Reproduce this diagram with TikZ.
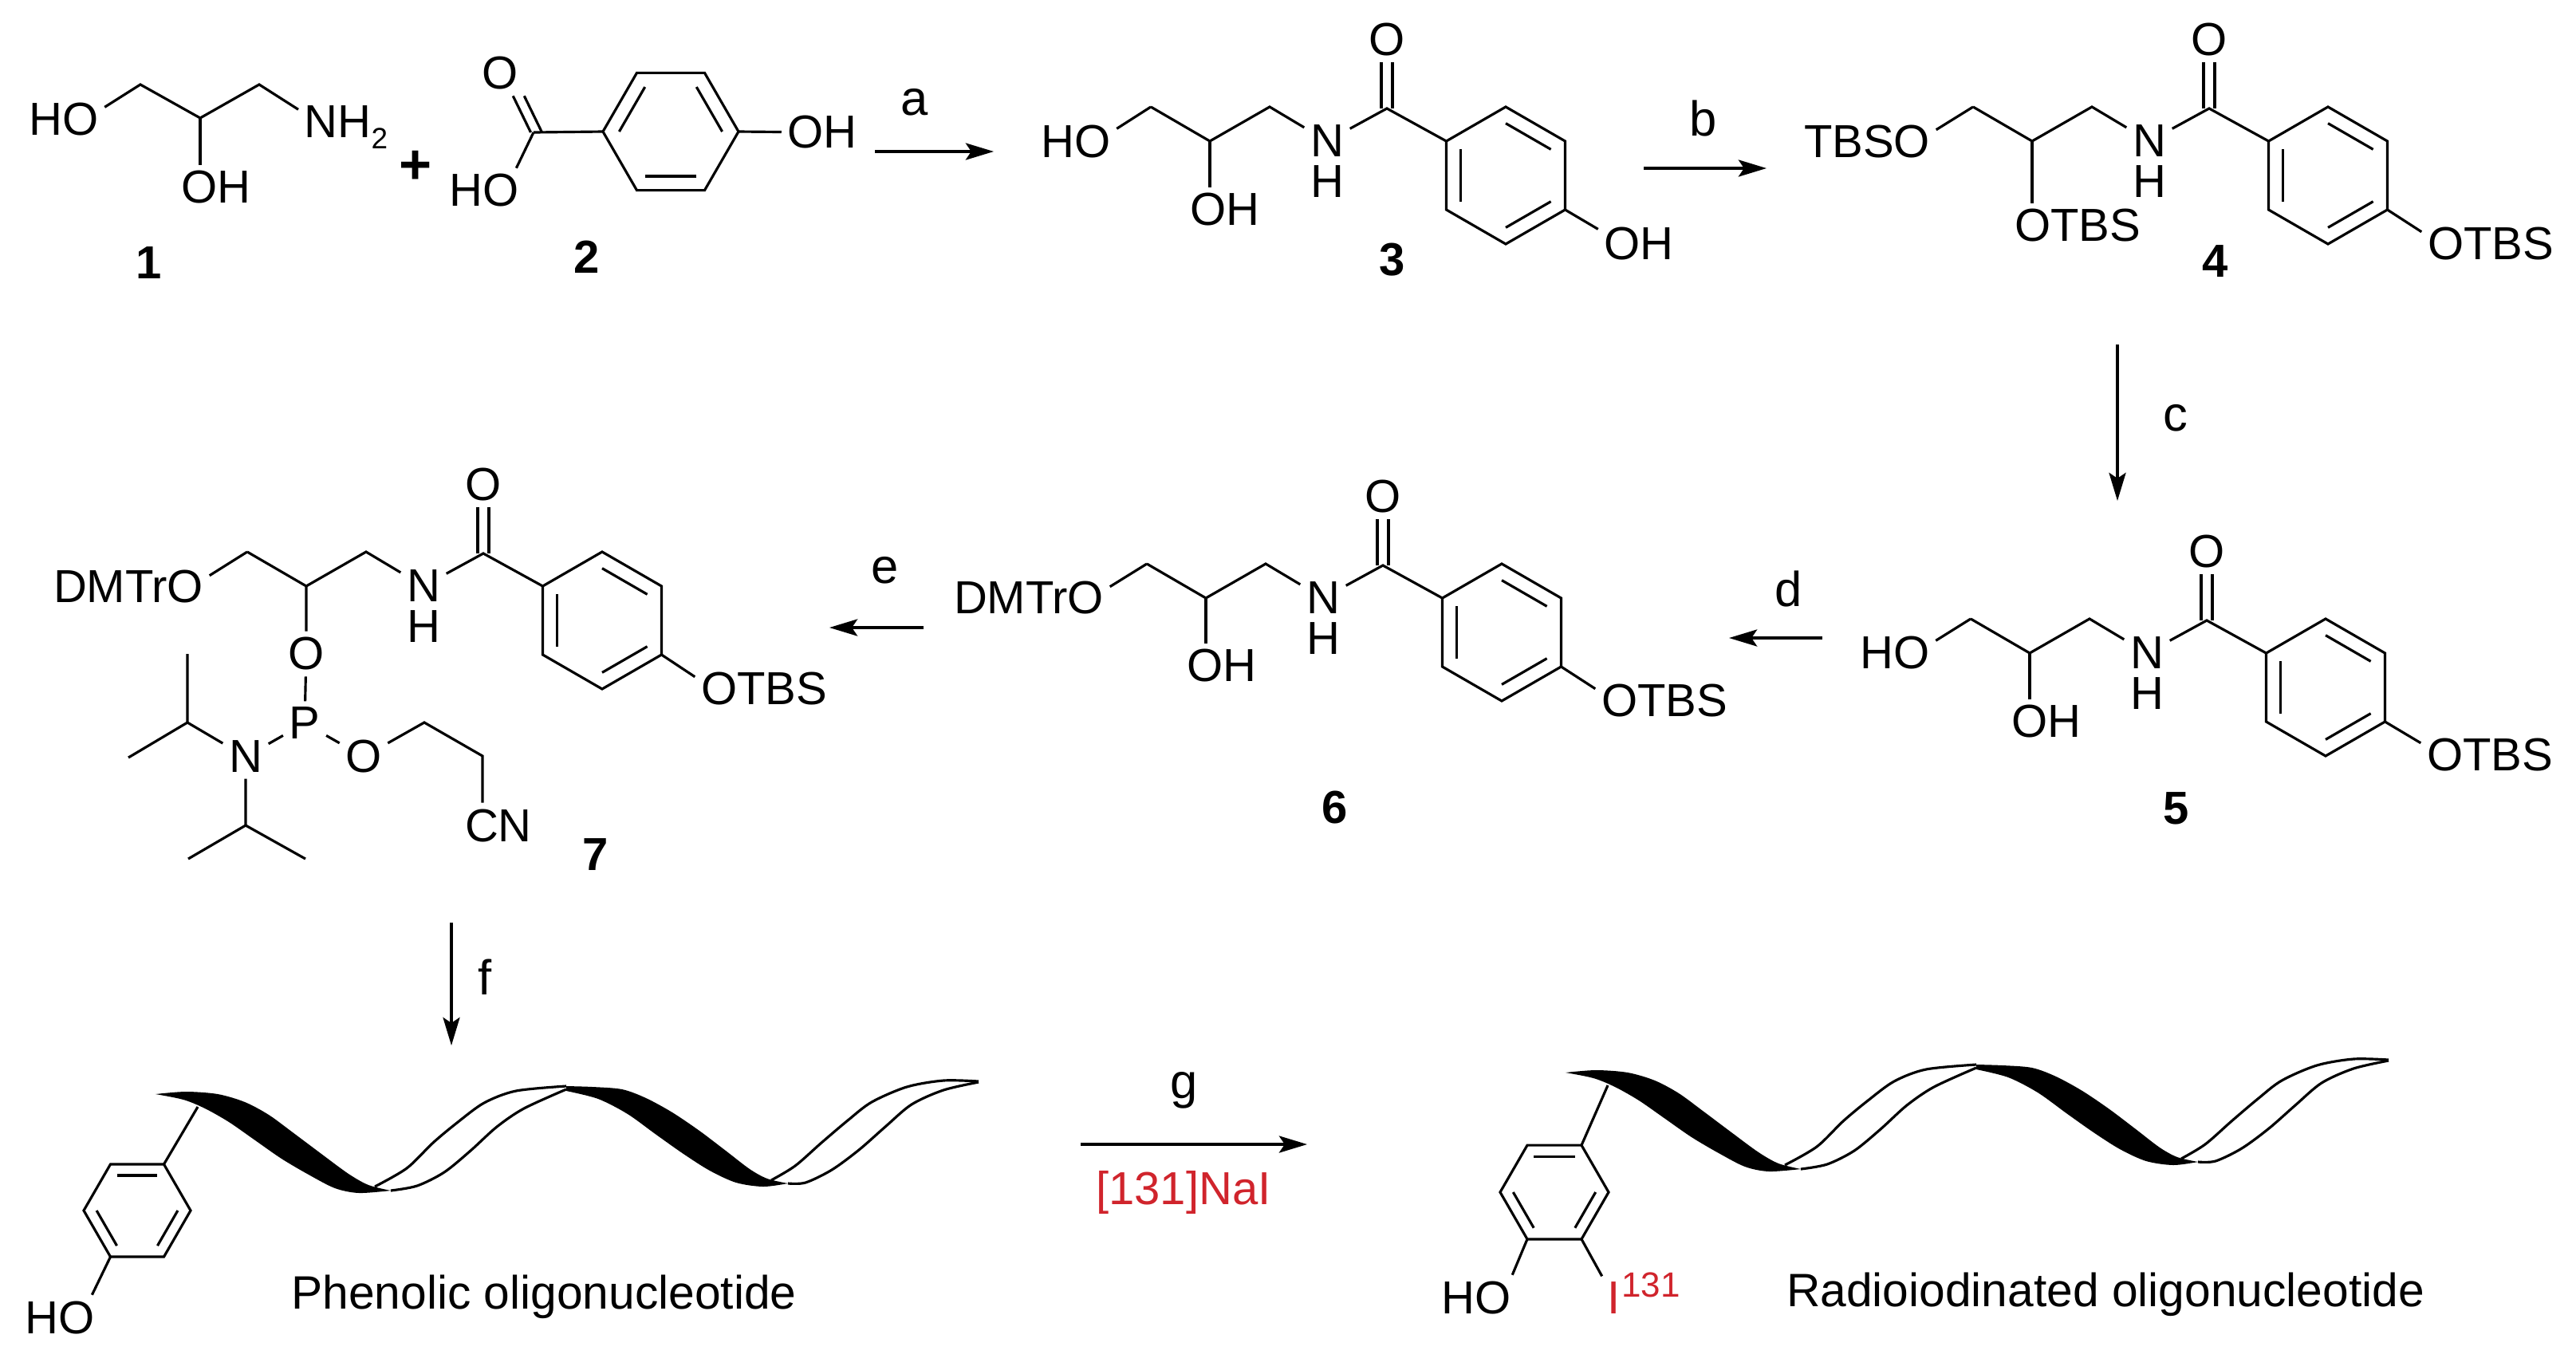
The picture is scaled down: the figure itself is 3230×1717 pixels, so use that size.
\documentclass[tikz,border=0pt]{standalone}
\usepackage{fontspec}
\setmainfont{Liberation Sans}
\usetikzlibrary{arrows.meta}
\definecolor{isored}{RGB}{208,36,44}
\tikzset{
  bond/.style={line width=0.9pt},
  rxn/.style={line width=1pt,-{Stealth[length=10pt,width=6pt,inset=2pt]}},
  atom/.style={font=\fontsize{16.5}{18}\selectfont,inner sep=2pt},
  cpdnum/.style={font=\fontsize{16.5}{18}\selectfont\bfseries,inner sep=1pt},
  reag/.style={font=\fontsize{17.5}{19}\selectfont,inner sep=1pt},
  caption/.style={font=\fontsize{16.7}{18}\selectfont,inner sep=0pt,anchor=base}
}
\newcommand{\benzring}[4]{%
  \begin{scope}[shift={(#2)}]
    \foreach \i in {0,...,5} \coordinate (#1\i) at ({#4+60*\i}:#3);
    \draw[bond] (#10) -- (#11) -- (#12) -- (#13) -- (#14) -- (#15) -- cycle;
    \foreach \i in {0,2,4} \draw[bond] ({#4+60*\i}:{0.76*#3}) -- ({#4+60+60*\i}:{0.76*#3});
  \end{scope}}
\newcommand{\amidecore}[2]{%
  \begin{scope}[shift={(#2)}]
    \coordinate (#1c) at (0,0);
    \coordinate (#1a) at (-74,-43);
    \coordinate (#1b) at (75,-43);
    \coordinate (#1k) at (222,-41);
    \node[atom] (#1n) at (147,0) {N};
    \node[atom] (#1h) at (147,51) {H};
    \node[atom] (#1o) at (222,-127) {O};
    \benzring{#1r}{371,43}{86}{-90}
    \draw[bond] (#1a) -- (#1c) -- (#1b) -- (#1n) -- (#1k) -- (#1r5);
    \draw[bond] ([xshift=-2pt]#1o.south) -- ([xshift=-2pt]#1k);
    \draw[bond] ([xshift=2pt]#1o.south) -- ([xshift=2pt]#1k);
  \end{scope}}
\newcommand{\oligostrand}[1]{%
  \begin{scope}[shift={(#1)}]
    \fill plot[smooth] coordinates {(195,1372) (233,1369) (273,1372) (307,1382) (337,1398) (367,1420) (403,1447) (437,1472) (462,1486) (490,1493)}
      -- plot[smooth] coordinates {(490,1493) (450,1496) (420,1490) (387,1473) (353,1453) (320,1430) (287,1407) (257,1390) (230,1379) (195,1372)} -- cycle;
    \draw[bond] plot[smooth] coordinates {(470,1488) (510,1465) (543,1433) (573,1408) (607,1383) (647,1368) (710,1362)};
    \draw[bond] plot[smooth] coordinates {(490,1493) (523,1487) (557,1470) (590,1443) (623,1413) (657,1390) (710,1366)};
    \fill plot[smooth] coordinates {(710,1362) (743,1363) (780,1366) (810,1377) (843,1395) (877,1418) (910,1443) (940,1466) (962,1478) (988,1484)}
      -- plot[smooth] coordinates {(988,1484) (957,1488) (923,1483) (890,1468) (857,1447) (823,1423) (787,1397) (750,1378) (710,1368)} -- cycle;
    \draw[bond] plot[smooth] coordinates {(967,1480) (997,1462) (1030,1433) (1063,1405) (1093,1382) (1137,1363) (1183,1355) (1227,1356)};
    \draw[bond] plot[smooth] coordinates {(988,1484) (1010,1483) (1043,1467) (1077,1442) (1110,1413) (1143,1385) (1183,1367) (1227,1357)};
  \end{scope}}
\begin{document}
\begin{tikzpicture}[x=0.01cm,y=-0.01cm]
    \useasboundingbox (0,0) rectangle (3230,1717);
    \foreach \n/\xa/\ya/\xb/\yb/\xl/\yl in {a/1097/190/1246/190/1147/128,b/2061/211/2215/211/2136/148,c/2655/432/2655/628/2728/524,d/2285/800/2168/800/2243/738,e/1158/787/1040/787/1110/715,f/566/1157/566/1311/608/1225,g/1355/1435/1639/1435/1485/1367} {
        \coordinate (arr\n0) at (\xa,\ya);
        \coordinate (arr\n1) at (\xb,\yb);
        \draw[rxn] (arr\n0) -- (arr\n1);
        \node[reag] (lab\n) at (\xl,\yl) {\n};
    }
    \foreach \n/\x/\y in {1/187/330,2/736/322,3/1746/326,4/2778/328,5/2729/1014,6/1674/1012,7/747/1072} \node[cpdnum] (num\n) at (\x,\y) {\n};

    % 1 + 2
    \coordinate (ua) at (176,106);
    \coordinate (uc) at (251,148);
    \coordinate (ub) at (325,106);
    \node[atom] (hoa) at (80,150) {HO};
    \node[atom] (oha) at (271,235) {OH};
    \node[atom,anchor=base west] (nha) at (374,172) {NH\raisebox{-4pt}{\fontsize{10.5}{12}\selectfont 2}};
    \draw[bond] (hoa.17) -- (ua) -- (uc) -- (ub) -- (nha.160);
    \draw[bond] (uc) -- (uc |- oha.north);
    \node[font=\fontsize{20}{22}\selectfont\bfseries,inner sep=0pt] (plus) at (521,210) {+};
    \benzring{vr}{841,165}{85}{-60}
    \coordinate (vk) at (669,166);
    \node[atom] (ovo) at (627,92) {O};
    \node[atom] (hov) at (607,239) {HO};
    \node[atom] (ohv) at (1031,166) {OH};
    \draw[bond] (vk) -- (vr4);
    \draw[bond] (vr1) -- (ohv);
    \draw[bond] (vk) -- (hov.35);
    \draw[bond] (ovo.south east) -- ([xshift=3pt]vk);
    \draw[bond] ([xshift=-4pt]ovo.south east) -- ([xshift=-1pt]vk);

    % 3
    \amidecore{t}{1517,177}
    \node[atom] (hot) at (1349,178) {HO};
    \node[atom] (oht) at (1536,263) {OH};
    \node[atom] (ohr) at (2055,306) {OH};
    \draw[bond] (ta) -- (hot.18);
    \draw[bond] (tc) -- (tc |- oht.north);
    \draw[bond] (tr2) -- (ohr.160);

    % 4
    \amidecore{f}{2548,177}
    \node[atom] (tbf) at (2341,178) {TBSO};
    \node[atom] (otf) at (2605,283) {OTBS};
    \node[atom] (otr) at (3123,306) {OTBS};
    \draw[bond] (fa) -- (tbf.10);
    \draw[bond] (fc) -- (fc |- otf.north);
    \draw[bond] (fr2) -- (otr.170);

    % 5
    \amidecore{p}{2545,819}
    \node[atom] (hop) at (2376,819) {HO};
    \node[atom] (ohp) at (2566,905) {OH};
    \node[atom] (otp) at (3122,947) {OTBS};
    \draw[bond] (pa) -- (hop.17);
    \draw[bond] (pc) -- (pc |- ohp.north);
    \draw[bond] (pr2) -- (otp.170);

    % 6
    \amidecore{s}{1512,750}
    \node[atom] (dms) at (1290,750) {DMTrO};
    \node[atom] (ohs) at (1532,835) {OH};
    \node[atom] (ots) at (2087,879) {OTBS};
    \draw[bond] (sa) -- (dms.8);
    \draw[bond] (sc) -- (sc |- ohs.north);
    \draw[bond] (sr2) -- (ots.170);

    % 7
    \amidecore{h}{384,735}
    \node[atom] (dmh) at (161,736) {DMTrO};
    \node[atom] (oth) at (958,864) {OTBS};
    \node[atom] (oph) at (384,820) {O};
    \node[atom] (pho) at (382,907) {P};
    \node[atom] (nph) at (308,949) {N};
    \node[atom] (ocy) at (456,949) {O};
    \node[atom] (cny) at (625,1035) {CN};
    \coordinate (cya) at (532,906);
    \coordinate (cyb) at (605,948);
    \coordinate (ipa) at (235,906);
    \coordinate (ipb) at (235,820);
    \coordinate (ipc) at (161,950);
    \coordinate (ipd) at (308,1035);
    \coordinate (ipe) at (236,1077);
    \coordinate (ipf) at (383,1077);
    \draw[bond] (ha) -- (dmh.8);
    \draw[bond] (hr2) -- (oth.170);
    \draw[bond] (hc) -- (oph) -- (pho) -- (nph);
    \draw[bond] (pho) -- (ocy) -- (cya) -- (cyb) -- (cyb |- cny.north);
    \draw[bond] (nph) -- (ipa) -- (ipb);
    \draw[bond] (ipa) -- (ipc);
    \draw[bond] (nph) -- (ipd) -- (ipe);
    \draw[bond] (ipd) -- (ipf);

    % phenolic strand
    \oligostrand{0,0}
    \benzring{lr}{172,1518}{67}{-120}
    \coordinate (lt) at (248,1388);
    \node[atom] (hol) at (75,1652) {HO};
    \draw[bond] (lr1) -- (lt);
    \draw[bond] (lr4) -- (hol.35);
    \node[caption] (capl) at (682,1641) {Phenolic oligonucleotide};

    % iodinated strand
    \oligostrand{1768,-27}
    \benzring{ir}{1949,1495}{68}{-120}
    \coordinate (it) at (2016,1361);
    \node[atom] (hoi) at (1851,1627) {HO};
    \node[atom,text=isored] (iod) at (2024,1628) {I};
    \node[atom,text=isored,font=\fontsize{12.5}{14}\selectfont,inner sep=0pt] (iso) at (2070,1611) {131};
    \draw[bond] (ir1) -- (it);
    \draw[bond] (ir4) -- (hoi.32);
    \draw[bond] (ir3) -- (iod);
    \node[caption] (capi) at (2640,1638) {Radioiodinated oligonucleotide};
    \node[atom,text=isored] (nai) at (1484,1495) {[131]NaI};
\end{tikzpicture}
\end{document}
